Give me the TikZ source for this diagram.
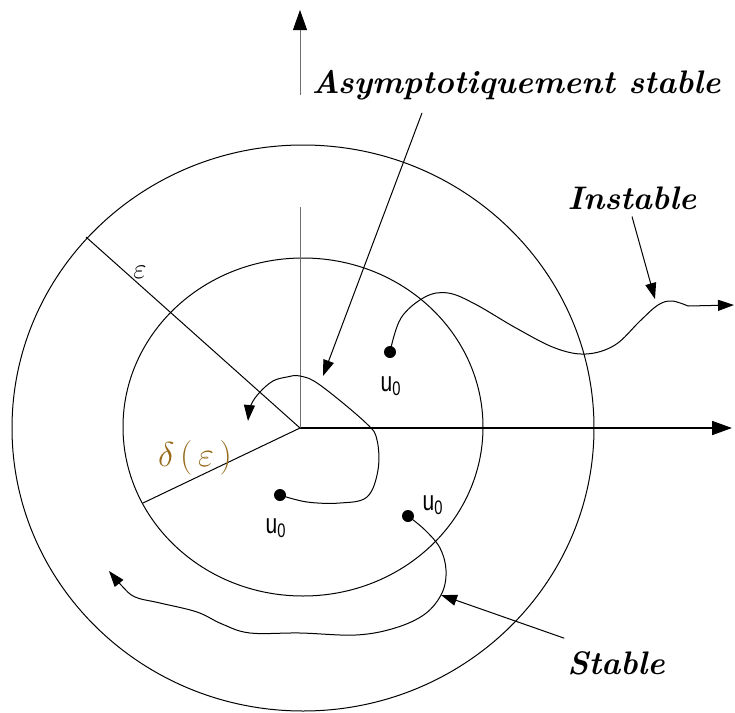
\documentclass[tikz,border=0pt]{standalone}
\usepackage{fontspec}
\usepackage{tikz}
\usetikzlibrary{arrows.meta,positioning,calc}
\newfontfamily\lblfont{Liberation Sans}
\definecolor{deltacol}{RGB}{150,105,25}
\definecolor{axisgray}{RGB}{110,110,110}

\begin{document}
\begin{tikzpicture}[x=0.5pt,y=-0.5pt,
  orbit/.style={line width=0.5pt},
  traj/.style={line width=0.5pt,-{Triangle[length=8pt,width=5.5pt]}},
  lead/.style={line width=0.5pt,-{Triangle[length=8pt,width=5.5pt]}},
  axe/.style={-{Triangle[length=10pt,width=7pt,black]}},
  startpt/.style={circle,fill=black,inner sep=0pt,minimum size=6pt},
  title/.style={font=\fontsize{16.3}{18}\selectfont\bfseries\itshape},
  ulabel/.style={font=\lblfont\fontsize{14}{16}\selectfont,xscale=0.75,transform shape}]
\useasboundingbox (0,0) rectangle (735,713);

% Origin and axis ends
\coordinate (O) at (300,428);
\coordinate (xtip) at (732,428);
\coordinate (ylow) at (300,207);
\coordinate (ybase) at (300,95);
\coordinate (ytip) at (300,10);

% Balls epsilon and delta(epsilon)
\draw[orbit] (303,428) ellipse [x radius=291, y radius=283];
\draw[orbit] (303,427) ellipse [x radius=180, y radius=169];

% Axes
\draw[line width=0.9pt,axe] (O) -- (xtip);
\draw[axisgray,line width=0.4pt] (O) -- (ylow);
\draw[axisgray,line width=0.4pt,axe] (ybase) -- (ytip);

% Radii
\coordinate (epsend) at (86,237);
\coordinate (delend) at (143,503);
\draw[orbit] (O) -- (epsend);
\draw[orbit] (O) -- (delend);
\node[font=\fontsize{15}{17}\selectfont] (epslbl) at (140,272) {$\varepsilon$};
\node[font=\fontsize{17}{19}\selectfont,text=deltacol] (dellbl) at (195,458)
  {$\delta\,(\,\varepsilon\,)$};

% Initial points
\node[startpt] (u1) at (390,352) {};
\node[startpt] (u2) at (280,495) {};
\node[startpt] (u3) at (408,516) {};
\node[ulabel] (l1) at (391,386) {u\textsubscript{0}};
\node[ulabel] (l2) at (276,528) {u\textsubscript{0}};
\node[ulabel] (l3) at (433,505) {u\textsubscript{0}};

% Trajectories
\coordinate (instend) at (734,305);
\draw[traj] plot[smooth,tension=0.6] coordinates {(u1) (401,318) (425,297)
  (448,293) (475,304) (516,328) (555,348) (586,354) (615,345) (640,321)
  (658,305) (672,301) (688,306)} -- (instend);
\draw[traj] plot[smooth,tension=0.6] coordinates {(u2) (307,502) (340,503)
  (367,497) (378,470) (377,440) (366,423) (320,385) (300,376) (287,377)
  (273,381) (260,392) (251,405) (248,421)};
\draw[traj] plot[smooth,tension=0.6] coordinates {(u3) (425,530) (440,548)
  (446,570) (442,593) (425,614) (395,628) (356,635) (300,633) (250,633)
  (222,624) (197,612) (160,603) (135,597) (122,586) (109,571)};

% Labels and leaders
\node[title] (asym) at (516,85) {Asymptotiquement stable};
\node[title] (inst) at (632,198) {Instable};
\node[title] (stab) at (616,663) {Stable};
\coordinate (asymtip) at (323,376);
\coordinate (insttip) at (655,299);
\coordinate (stabtip) at (441,595);
\draw[lead] ($(asym.south)+(-94,6)$) -- (asymtip);
\draw[lead] (inst.south) -- (insttip);
\draw[lead] ($(stab.north west)+(4,-6)$) -- (stabtip);
\end{tikzpicture}
\end{document}
